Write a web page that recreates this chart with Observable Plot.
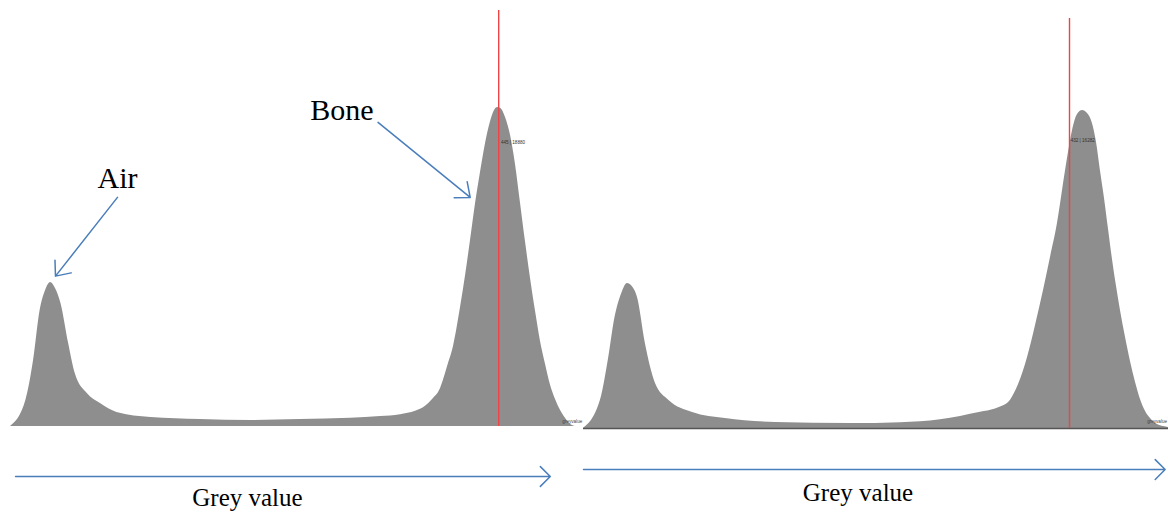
<!DOCTYPE html>
<html><head><meta charset="utf-8">
<script src="https://cdn.jsdelivr.net/npm/d3@7"></script>
<script src="https://cdn.jsdelivr.net/npm/@observablehq/plot@0.6"></script>
<style>
html,body{margin:0;padding:0;background:#fff;}
#wrap{position:relative;width:1168px;height:514px;overflow:hidden;}
#wrap > svg{position:absolute;top:0;overflow:visible;}
</style></head><body><div id="wrap"></div>
<script>
// ---- Left histogram (grey value vs. count) ----
const leftGrey  = [0,14,21,27,32,36.5,41,46,53,59,70,82,97,128,173,219,264,310,337.3,355.5,369.2,378.3,384.7,392,398.4,403.8,410.2,414.8,419.3,423.9,428.4,433,437.6,441.2,444,447,451.2,455.8,460.3,464.9,469.5,474,478.6,483.1,487.7,492.3,496.8,501.4,506,510.6,515];
const leftCount = [0,1540,3900,6870,8050,8520,8170,7280,4910,3140,1950,1360,830,530,410,355,410,490,590,700,900,1200,1598,2249,3551,4735,7044,8939,11009,13199,15034,16750,18053,18704,18880,18820,18290,17224,15508,13199,10891,8760,6806,5031,3670,2427,1598,947,474,118,0];
const leftCursor = 445;
const leftCursorLabel = "445 | 18880";

// ---- Right histogram ----
const rightGrey  = [0,15,22,28,34,39,44,48,55,64,76,97,126,170.7,237.3,281.8,317.3,335.1,352.9,366.2,370.7,379.6,386.7,394.7,401.8,408.9,415.1,421.3,425.8,430.2,434.7,439.1,443.6,448,452.4,456,459.6,463.1,466.7,470.2,473.8,477.3,481.8,486.2,490.7,495.1,499.6,504,510.2,515.6,520];
const rightCount = [0,1430,3480,5680,6910,7420,7220,6710,4350,2300,1430,820,510,307,256,300,450,620,830,1000,1100,1450,2253,3635,5274,7066,8755,10496,12186,13824,15258,16077,16282,16128,15616,14643,13158,11776,10189,8653,7270,6042,4659,3430,2355,1485,870,512,205,102,51];
const rightCursor = 432;
const rightCursorLabel = "432 | 16282";

const axisName = "greyvalue";
const bottomLabel = "Grey value";

// annotations (in each panel's data units: grey value, count)
const leftAnnotations = [
  {text: "Air",  x: 97.5, y: 14700, ax1: 97.5, ay1: 13560, ax2: 41, ay2: 8900},
  {text: "Bone", x: 302,  y: 18700, ax1: 335,  ay1: 18000, ax2: 419, ay2: 13560}
];
const leftBottom  = {x1: 4.6, x2: 492, y: -2960, tx: 216, ty: -4260};
const rightBottom = {x1: 0,   x2: 517, y: -2100, tx: 244, ty: -3280};

const leftFrame  = {left: 0,   width: 583, marginLeft: 10, marginRight: 8, xDomain: [0, 515], yDomain: [-5209, 25215], cursorTop: 24620, labelAt: [447, 16810], nameAt: [503, 300]};
const rightFrame = {left: 583, width: 585, marginLeft: 0,  marginRight: 0, xDomain: [0, 520], yDomain: [-4403, 21914], cursorTop: 20990, labelAt: [433, 14750], nameAt: [501, 360]};

const grey = "#8e8e8e", blue = "#4a7ebb", red = "#ee4444";

function panel(frame, greyArr, countArr, cursor, cursorLabel, bottom, annotations, baseRule) {
  const table = greyArr.map((g, i) => ({grey: g, count: countArr[i]}));
  const marks = [
    Plot.areaY(table, {x: "grey", y: "count", fill: grey, curve: "monotone-x"})
  ];
  if (baseRule) marks.push(Plot.ruleY([0], {stroke: "#555", strokeWidth: 1.5}));
  marks.push(
    Plot.ruleX([cursor], {x: d => d, y1: 0, y2: frame.cursorTop, stroke: red, strokeWidth: 1.4}),
    Plot.text([cursorLabel], {x: frame.labelAt[0], y: frame.labelAt[1], text: d => d, textAnchor: "start", fontSize: 4.6, fill: "#333", fontFamily: "Liberation Sans"}),
    Plot.text([axisName], {x: frame.nameAt[0], y: frame.nameAt[1], text: d => d, textAnchor: "start", fontSize: 4.6, fill: "#444", fontFamily: "Liberation Sans"}),
    Plot.arrow([bottom], {x1: "x1", x2: "x2", y1: "y", y2: "y", stroke: blue, strokeWidth: 1.5, headLength: 14, headAngle: 90}),
    Plot.text([bottom], {x: "tx", y: "ty", text: () => bottomLabel, fontSize: 25, fill: "#000", fontFamily: "Liberation Serif"})
  );
  if (annotations) {
    marks.push(Plot.text(annotations, {x: "x", y: "y", text: "text", fontSize: 30, fill: "#000", fontFamily: "Liberation Serif"}));
    marks.push(Plot.arrow(annotations, {x1: "ax1", y1: "ay1", x2: "ax2", y2: "ay2", stroke: blue, strokeWidth: 1.5, headLength: 16, headAngle: 80}));
  }
  const svg = Plot.plot({
    width: frame.width, height: 514,
    marginTop: 0, marginBottom: 0, marginLeft: frame.marginLeft, marginRight: frame.marginRight,
    x: {domain: frame.xDomain, axis: null},
    y: {domain: frame.yDomain, axis: null},
    style: {background: "transparent", overflow: "visible", fontFamily: "Liberation Serif"},
    marks
  });
  svg.style.left = frame.left + "px";
  return svg;
}

const wrap = document.getElementById("wrap");
wrap.appendChild(panel(leftFrame, leftGrey, leftCount, leftCursor, leftCursorLabel, leftBottom, leftAnnotations, false));
wrap.appendChild(panel(rightFrame, rightGrey, rightCount, rightCursor, rightCursorLabel, rightBottom, null, true));
</script>
</body></html>
